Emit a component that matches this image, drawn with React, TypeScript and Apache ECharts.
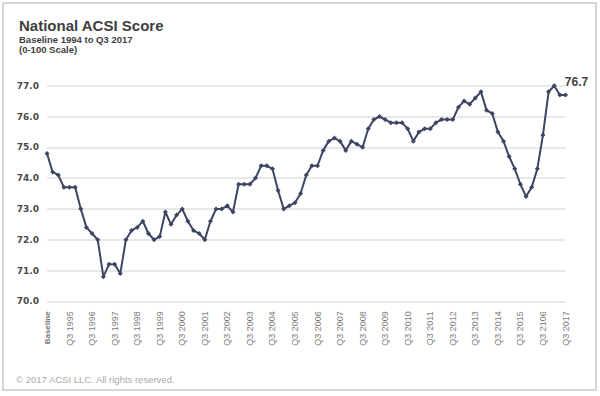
import React, { useEffect, useRef } from "react";
import * as echarts from "echarts";

const scores: number[] = [
  74.8, 74.2, 74.1, 73.7, 73.7, 73.7, 73.0, 72.4, 72.2, 72.0,
  70.8, 71.2, 71.2, 70.9, 72.0, 72.3, 72.4, 72.6, 72.2, 72.0,
  72.1, 72.9, 72.5, 72.8, 73.0, 72.6, 72.3, 72.2, 72.0, 72.6,
  73.0, 73.0, 73.1, 72.9, 73.8, 73.8, 73.8, 74.0, 74.4, 74.4,
  74.3, 73.6, 73.0, 73.1, 73.2, 73.5, 74.1, 74.4, 74.4, 74.9,
  75.2, 75.3, 75.2, 74.9, 75.2, 75.1, 75.0, 75.6, 75.9, 76.0,
  75.9, 75.8, 75.8, 75.8, 75.6, 75.2, 75.5, 75.6, 75.6, 75.8,
  75.9, 75.9, 75.9, 76.3, 76.5, 76.4, 76.6, 76.8, 76.2, 76.1,
  75.5, 75.2, 74.7, 74.3, 73.8, 73.4, 73.7, 74.3, 75.4, 76.8,
  77.0, 76.7, 76.7,
];

const tickLabels: string[] = [
  "Baseline", "Q3 1995", "Q3 1996", "Q3 1997", "Q3 1998", "Q3 1999",
  "Q3 2000", "Q3 2001", "Q3 2002", "Q3 2003", "Q3 2004", "Q3 2005",
  "Q3 2006", "Q3 2007", "Q3 2008", "Q3 2009", "Q3 2010", "Q3 2011",
  "Q3 2012", "Q3 2013", "Q3 2014", "Q3 2015", "Q3 2106", "Q3 2017",
];

const categories: string[] = scores.map((_, i) => {
  const q = ((2 + i) % 4) + 1;
  const y = 1994 + Math.floor((2 + i) / 4);
  return "Q" + q + " " + y;
});

const FONT = "'Liberation Sans', Arial, Helvetica, sans-serif";
const WIDE = "'DejaVu Sans', 'Liberation Sans', sans-serif";

export default function App() {
  const ref = useRef<HTMLDivElement>(null);
  useEffect(() => {
    if (!ref.current) return;
    const chart = echarts.init(ref.current, null, { renderer: "svg" });
    const last = scores.length - 1;
    const seriesData = scores.map((v, i) =>
      i === last
        ? {
            value: v,
            label: {
              show: true,
              position: "top",
              offset: [11, 1],
              formatter: "{c}",
              fontSize: 12,
              fontWeight: "bold",
              color: "#444",
              fontFamily: FONT,
            },
          }
        : v
    );
    chart.setOption({
      animation: false,
      backgroundColor: "#fff",
      textStyle: { fontFamily: FONT },
      grid: { left: 47, right: 34.5, top: 85.7, bottom: 94.7, containLabel: false },
      xAxis: {
        type: "category",
        data: categories,
        boundaryGap: false,
        axisLine: { show: false },
        axisTick: { show: false },
        splitLine: { show: false },
        axisLabel: {
          interval: 3,
          rotate: 90,
          margin: 10,
          fontSize: 9,
          color: "#7a7a7a",
          fontFamily: FONT,
          formatter: (_v: string, idx: number) =>
            idx === 0 ? "{b|" + tickLabels[0] + "}" : tickLabels[Math.round(idx / 4)],
          rich: {
            b: { fontSize: 8, fontWeight: "bold", color: "#7a7a7a", fontFamily: FONT },
          },
        },
      },
      yAxis: {
        type: "value",
        min: 70,
        max: 77,
        interval: 1,
        axisLine: { show: false },
        axisTick: { show: false },
        splitLine: { lineStyle: { color: "#e0e0e0", width: 1.6 } },
        axisLabel: {
          margin: 8,
          fontSize: 9,
          fontWeight: "bold",
          color: "#4a4a4a",
          fontFamily: WIDE,
          formatter: (v: number) => v.toFixed(1),
        },
      },
      series: [
        {
          type: "line",
          data: seriesData,
          symbol: "diamond",
          symbolSize: 5,
          showAllSymbol: true,
          lineStyle: { color: "#3d4563", width: 2 },
          itemStyle: { color: "#3d4563" },
        },
      ],
      graphic: [
        {
          type: "rect",
          shape: { x: 3, y: 3, width: 593, height: 387 },
          style: { fill: "none", stroke: "#c9c9c9", lineWidth: 1.5 },
          silent: true,
        },
        {
          type: "text",
          x: 19,
          y: 25.3,
          style: {
            text: "National ACSI Score",
            font: "bold 15px " + FONT,
            fill: "#3e3e3e",
            textVerticalAlign: "middle",
          },
        },
        {
          type: "text",
          x: 19,
          y: 39.2,
          style: {
            text: "Baseline 1994 to Q3 2017",
            font: "bold 9.5px " + FONT,
            fill: "#3e3e3e",
            textVerticalAlign: "middle",
          },
        },
        {
          type: "text",
          x: 19,
          y: 49.8,
          style: {
            text: "(0-100 Scale)",
            font: "bold 9.5px " + FONT,
            fill: "#3e3e3e",
            textVerticalAlign: "middle",
          },
        },
        {
          type: "text",
          x: 16,
          y: 379,
          style: {
            text: "\u00a9 2017 ACSI LLC. All rights reserved.",
            font: "9.5px " + FONT,
            fill: "#aaaaaa",
            textVerticalAlign: "middle",
          },
        },
      ],
    });
    return () => chart.dispose();
  }, []);
  return (
    <div
      ref={ref}
      style={{ position: "fixed", left: 0, top: 0, width: 600, height: 396 }}
    />
  );
}
